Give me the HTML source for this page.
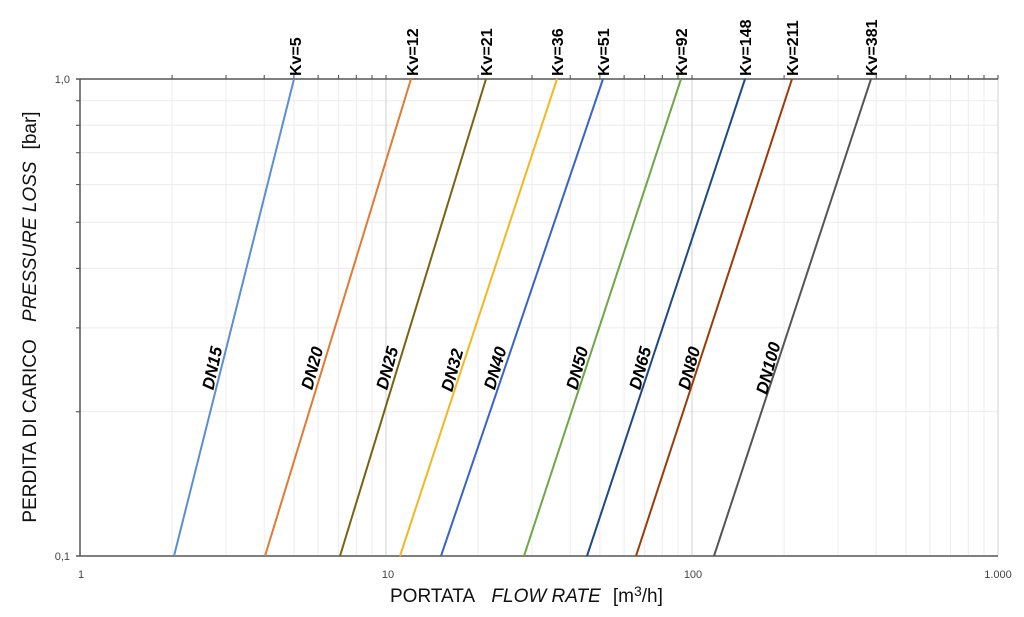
<!DOCTYPE html>
<html><head><meta charset="utf-8"><style>body{margin:0;background:#fff}svg{display:block}</style></head><body>
<svg width="1024" height="617" xmlns="http://www.w3.org/2000/svg" font-family="Liberation Sans, sans-serif">
<path stroke="#ececec" stroke-width="1" fill="none" d="
M172.1 79V555M226 79V555M264.2 79V555M293.9 79V555M318.1 79V555M338.6 79V555M356.3 79V555M372 79V555
M478.1 79V555M532 79V555M570.2 79V555M599.9 79V555M624.1 79V555M644.6 79V555M662.3 79V555M678 79V555
M784.1 79V555M838 79V555M876.2 79V555M905.9 79V555M930.1 79V555M950.6 79V555M968.3 79V555M984 79V555
M80 411.7H998M80 327.9H998M80 268.4H998M80 222.3H998M80 184.6H998M80 152.8H998M80 125.2H998M80 100.8H998"/>
<path stroke="#d0d0d0" stroke-width="1" fill="none" d="M386 79V555M692 79V555M998 79V555"/>
<path stroke="#444" stroke-width="1" fill="none" d="
M172.1 79V75M226 79V75M264.2 79V75M293.9 79V75M318.1 79V75M338.6 79V75M356.3 79V75M372 79V75M386 79V75
M478.1 79V75M532 79V75M570.2 79V75M599.9 79V75M624.1 79V75M644.6 79V75M662.3 79V75M678 79V75M692 79V75
M784.1 79V75M838 79V75M876.2 79V75M905.9 79V75M930.1 79V75M950.6 79V75M968.3 79V75M984 79V75M998 79V75
M76 411.7H80M76 327.9H80M76 268.4H80M76 222.3H80M76 184.6H80M76 152.8H80M76 125.2H80M76 100.8H80"/>
<line x1="76" y1="79" x2="998" y2="79" stroke="#555" stroke-width="1.5"/>
<line x1="76" y1="556" x2="998" y2="556" stroke="#555" stroke-width="1.5"/>
<line x1="80" y1="79" x2="80" y2="556" stroke="#555" stroke-width="1.5"/>
<g stroke-width="2" fill="none">
<line x1="294" y1="79" x2="174" y2="556" stroke="#5b8fd0"/>
<line x1="411" y1="79" x2="265" y2="556" stroke="#e07a34"/>
<line x1="486" y1="79" x2="340" y2="556" stroke="#7a6212"/>
<line x1="557" y1="79" x2="400" y2="556" stroke="#f2b824"/>
<line x1="603" y1="79" x2="441" y2="556" stroke="#3a63c4"/>
<line x1="681" y1="79" x2="524" y2="556" stroke="#6fa649"/>
<line x1="745" y1="79" x2="587" y2="556" stroke="#1f4a80"/>
<line x1="792" y1="79" x2="636" y2="556" stroke="#9a3b0a"/>
<line x1="871" y1="79" x2="714" y2="556" stroke="#555"/>
</g>
<g font-size="17" font-weight="bold" font-style="italic" text-anchor="middle" fill="#000">
<text transform="translate(212,368) rotate(-78)" dy="6">DN15</text>
<text transform="translate(312,368) rotate(-75)" dy="6">DN20</text>
<text transform="translate(387,368) rotate(-75)" dy="6">DN25</text>
<text transform="translate(452,370) rotate(-75)" dy="6">DN32</text>
<text transform="translate(495,368) rotate(-74)" dy="6">DN40</text>
<text transform="translate(577,368) rotate(-75)" dy="6">DN50</text>
<text transform="translate(640,368) rotate(-75)" dy="6">DN65</text>
<text transform="translate(689,368) rotate(-75)" dy="6">DN80</text>
<text transform="translate(768,368) rotate(-75)" dy="6">DN100</text>
</g>
<g font-size="16" font-weight="bold" fill="#000">
<text transform="translate(301,76) rotate(-90)">Kv=5</text>
<text transform="translate(418,76) rotate(-90)">Kv=12</text>
<text transform="translate(492,76) rotate(-90)">Kv=21</text>
<text transform="translate(563,76) rotate(-90)">Kv=36</text>
<text transform="translate(609,76) rotate(-90)">Kv=51</text>
<text transform="translate(687,76) rotate(-90)">Kv=92</text>
<text transform="translate(751,76) rotate(-90)">Kv=148</text>
<text transform="translate(798,76) rotate(-90)">Kv=211</text>
<text transform="translate(877,76) rotate(-90)">Kv=381</text>
</g>
<g font-size="11" fill="#444">
<text x="70" y="83" text-anchor="end">1,0</text>
<text x="70" y="560" text-anchor="end">0,1</text>
<text x="81" y="578" text-anchor="middle">1</text>
<text x="388" y="578" text-anchor="middle">10</text>
<text x="693" y="578" text-anchor="middle">100</text>
<text x="998" y="578" text-anchor="middle">1.000</text>
</g>
<text x="390" y="602" font-size="19" fill="#111">PORTATA <tspan dx="12" font-style="italic">FLOW RATE</tspan><tspan dx="12">[m</tspan><tspan font-size="14" dy="-6">3</tspan><tspan dy="6">/h]</tspan></text>
<text transform="translate(36,317) rotate(-90)" font-size="19" fill="#111" text-anchor="middle">PERDITA DI CARICO <tspan dx="12" font-style="italic">PRESSURE LOSS</tspan><tspan dx="12">[bar]</tspan></text>
</svg>
</body></html>
